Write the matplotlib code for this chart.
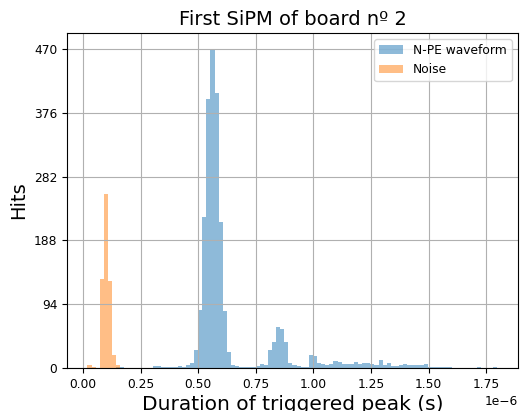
import numpy as np
import matplotlib
matplotlib.use("Agg")
import matplotlib.pyplot as plt

# histogram binning (seconds) shared by both series
bin_lo = 0.0186e-6
bin_hi = 1.799e-6
n_bins = 100

# hits per bin
npe_counts = [
    0, 0, 0, 0, 0, 0, 0, 2, 1, 0,
    0, 0, 0, 0, 0, 0, 3, 3, 2, 1,
    2, 2, 3, 2, 4, 8, 26, 85, 222, 396,
    470, 405, 215, 84, 23, 4, 3, 2, 2, 2,
    2, 3, 6, 5, 27, 39, 60, 57, 38, 8,
    5, 3, 2, 1, 19, 18, 8, 6, 5, 6,
    11, 9, 6, 6, 6, 9, 6, 7, 7, 6,
    5, 12, 4, 7, 3, 3, 4, 6, 5, 4,
    4, 5, 6, 2, 1, 2, 2, 2, 2, 0,
    0, 0, 0, 0, 0, 1, 0, 0, 0, 1,
]
noise_counts = [4, 2, 0, 131, 257, 128, 19, 4]

edges = np.linspace(bin_lo, bin_hi, n_bins + 1)
noise_edges = edges[:len(noise_counts) + 1]

fig = plt.figure(figsize=(5.21, 4.11), dpi=100)
ax = fig.add_axes([0.1286, 0.1046, 0.8656, 0.8151])

ax.hist(edges[:-1], bins=edges, weights=npe_counts, alpha=0.5, label='N-PE waveform')
ax.hist(noise_edges[:-1], bins=noise_edges, weights=noise_counts, alpha=0.5, label='Noise')

top = max(npe_counts)
yt = np.linspace(0, top, 6)
ax.set_yticks(yt)
ax.set_yticklabels([str(int(round(v))) for v in yt])
ax.tick_params(axis='both', which='major', labelsize=8.8)
ax.xaxis.get_offset_text().set_fontsize(8.8)

ax.set_title('First SiPM of board nº 2', fontsize=14)
ax.set_xlabel('Duration of triggered peak (s)', fontsize=14.5, labelpad=3)
ax.set_ylabel('Hits', fontsize=14)
ax.grid(True)
ax.legend(fontsize=8.8, loc='upper right')

fig.savefig('out.png', dpi=100)
